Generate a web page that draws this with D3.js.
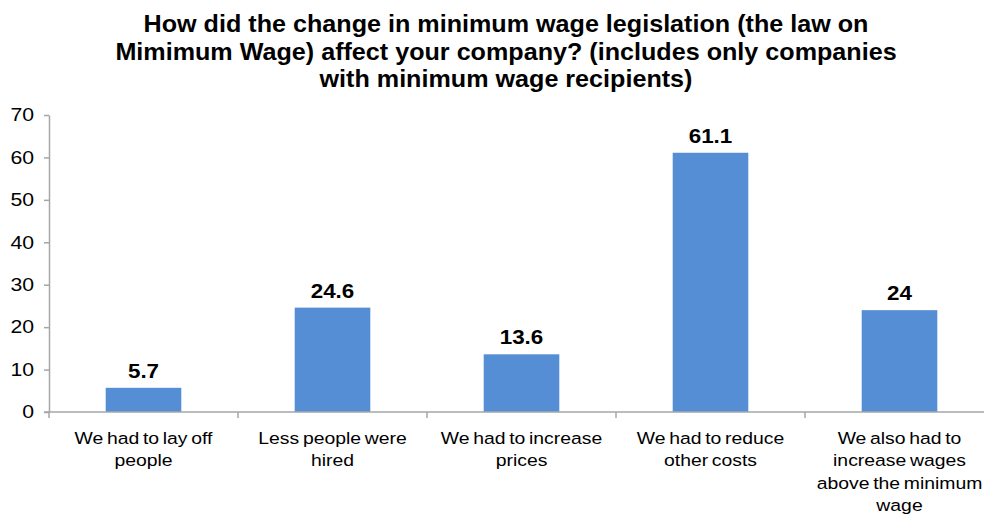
<!DOCTYPE html>
<html><head><meta charset="utf-8">
<script src="https://cdn.jsdelivr.net/npm/d3@7"></script>
<style>body{margin:0;background:#fff}svg{display:block}</style>
</head><body>
<script>
const titleLines = ["How did the change in minimum wage legislation (the law on","Mimimum Wage) affect your company? (includes only companies","with minimum wage recipients)"];
const categories = [["We had to lay off","people"],["Less people were","hired"],["We had to increase","prices"],["We had to reduce","other costs"],["We also had to","increase wages","above the minimum","wage"]];
const values = [5.7, 24.6, 13.6, 61.1, 24];
const yTicks = [0,10,20,30,40,50,60,70];

const W = 984, H = 516;
const m = {left:49, top:115, right:-10, bottom:104};
const svg = d3.select("body").append("svg").attr("width",W).attr("height",H);
const font = "'Liberation Sans', Arial, sans-serif";

const x = d3.scaleBand().domain(d3.range(values.length)).range([m.left, W - m.right])
  .paddingInner(0.6).paddingOuter(0.3);
const y = d3.scaleLinear().domain([0,70]).range([H - m.bottom, m.top]);

// title
const titleBase = [32, 59.5, 87];
titleLines.forEach((t,i)=>{
  svg.append("text").attr("transform",`translate(506,${titleBase[i]}) scale(1.07,1)`)
    .attr("text-anchor","middle").attr("font-family",font).attr("font-weight","bold")
    .attr("font-size",23.5).attr("fill","#000").text(t);
});

// y axis
const ya = svg.append("g").attr("transform",`translate(${m.left},0)`)
  .call(d3.axisLeft(y).tickValues(yTicks).tickSize(5).tickPadding(6).tickSizeOuter(0));
ya.select(".domain").attr("stroke","#a6a6a6").attr("stroke-width",1.5);
ya.selectAll(".tick line").attr("stroke","#a6a6a6").attr("stroke-width",1.5);
ya.selectAll(".tick text").attr("font-family",font).attr("font-size",18).attr("fill","#000")
  .attr("x",0).attr("transform","translate(-15,0) scale(1.18,1)");

// bars
svg.selectAll("rect.bar").data(values).join("rect").attr("class","bar")
  .attr("x",(d,i)=>x(i)).attr("width",x.bandwidth())
  .attr("y",d=>y(d)).attr("height",d=>y(0)-y(d)).attr("fill","#558ed5");

// x axis
const y0 = y(0);
svg.append("line").attr("x1",m.left-5).attr("x2",W).attr("y1",y0).attr("y2",y0)
  .attr("stroke","#a6a6a6").attr("stroke-width",1.5);
const step = x.step();
const edges = d3.range(values.length+1).map(i => x.range()[0] + i*step);
svg.selectAll("line.xt").data(edges).join("line").attr("class","xt")
  .attr("x1",d=>d).attr("x2",d=>d).attr("y1",y0).attr("y2",y0+6)
  .attr("stroke","#a6a6a6").attr("stroke-width",1.5);

// category labels
categories.forEach((lines,i)=>{
  const cx = x(i)+x.bandwidth()/2;
  lines.forEach((t,j)=>{
    svg.append("text").attr("transform",`translate(${cx},${444+j*22.3}) scale(1.14,1)`)
      .attr("text-anchor","middle").attr("font-family",font).attr("font-size",17)
      .attr("fill","#000").attr("word-spacing",-1.5).text(t);
  });
});

// value labels
svg.selectAll("text.val").data(values).join("text").attr("class","val")
  .attr("transform",(d,i)=>`translate(${x(i)+x.bandwidth()/2},${y(d)-10}) scale(1.12,1)`)
  .attr("text-anchor","middle").attr("font-family",font).attr("font-weight","bold").attr("font-size",20)
  .attr("fill","#000").text(d=>d);
</script>
</body></html>
